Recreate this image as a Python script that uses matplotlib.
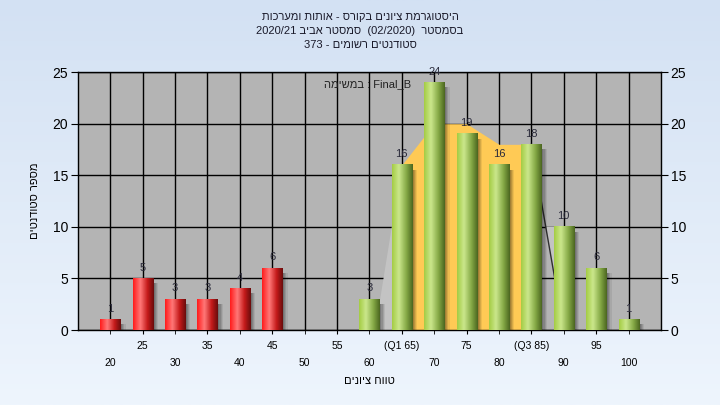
import numpy as np
import matplotlib
matplotlib.use("Agg")
import matplotlib.pyplot as plt
from matplotlib.colors import LinearSegmentedColormap
from matplotlib.patches import Rectangle, Polygon

plt.rcParams['font.family'] = ['Liberation Sans', 'DejaVu Sans']

# grade histogram data
grades = [20, 25, 30, 35, 40, 45, 50, 55, 60, 65, 70, 75, 80, 85, 90, 95, 100]
counts = [1, 5, 3, 3, 4, 6, 0, 0, 3, 16, 24, 19, 16, 18, 10, 6, 1]
pass_grade = 55
tick_names = ['20', '25', '30', '35', '40', '45', '50', '55', '60', '(Q1 65)',
              '70', '75', '80', '(Q3 85)', '90', '95', '100']

# shaded background areas (inter-quartile band and tails)
iqr_grades = [65, 70, 75, 80, 85]
iqr_heights = [16, 20, 20, 18, 18]
left_tail_grades = [60.9, 65, 65]
left_tail_vals = [0, 16, 0]
right_tail_grades = [85, 90]
right_tail_vals = [18, 0]

title_lines = ["היסטוגרמת ציונים בקורס - אותות ומערכות",
               "בסמסטר  (02/2020)  סמסטר אביב 2020/21",
               "סטודנטים רשומים - 373"]
note = "Final_B : במשימה"
xlabel = "טווח ציונים"
ylabel = "מספר סטודנטים"


def rtl(s):
    # matplotlib has no bidi support, so build the visual order by hand
    out = []
    for t in reversed(s.split(' ')):
        if any('\u0590' <= c <= '\u05ff' for c in t):
            t = t[::-1]
        out.append(t)
    return ' '.join(out)


fig = plt.figure(figsize=(7.2, 4.05), dpi=100)

# light blue gradient background
bg = fig.add_axes([0, 0, 1, 1], zorder=-10)
grad = np.linspace(0, 1, 256).reshape(-1, 1)
bg_cmap = LinearSegmentedColormap.from_list('bg', ['#d3e1f3', '#eef5fd'])
bg.imshow(grad, cmap=bg_cmap, aspect='auto', extent=[0, 1, 0, 1])
bg.axis('off')

ax = fig.add_axes([0.108, 0.185, 0.810, 0.637])
ax.set_facecolor('#b4b4b4')

bw = 3.1
red_cmap = LinearSegmentedColormap.from_list(
    'r', [(0, '#ff1c1c'), (0.35, '#ff7878'), (0.7, '#c41a1a'), (1, '#6a0d0d')])
green_cmap = LinearSegmentedColormap.from_list(
    'g', [(0, '#a4cc44'), (0.33, '#cbe78c'), (0.7, '#84a845'), (1, '#4b6620')])
hgrad = np.linspace(0, 1, 64).reshape(1, -1)

# areas behind the bars
xs = np.array(iqr_grades)
ax.fill_between(xs, 0, iqr_heights, color='#ffca55', lw=0, zorder=2)
ax.add_patch(Polygon(list(zip(left_tail_grades, left_tail_vals)),
                     closed=True, fc='#c3c3c3', ec='none', zorder=2))
# light strip to the right of the descending tail line, below the 90 bar top
k = counts[grades.index(90)]
xk = np.interp(k, right_tail_vals[::-1], right_tail_grades[::-1])
ax.add_patch(Polygon([(xk, k), (right_tail_grades[1], k), (right_tail_grades[1], 0)],
                     closed=True, fc='#c3c3c3', ec='none', zorder=2))
ax.plot(right_tail_grades, right_tail_vals, color='#303030', lw=1, zorder=2.5)

for g, c in zip(grades, counts):
    if c == 0:
        continue
    x0 = g - bw / 2
    # soft shadow
    for i, a in enumerate([0.13, 0.12, 0.10, 0.07]):
        ax.add_patch(Rectangle((x0 + 0.3 + 0.18 * i, -0.35), bw, c - 0.1,
                               fc='black', alpha=a, lw=0, zorder=3))
    cm = red_cmap if g < pass_grade else green_cmap
    ax.imshow(hgrad, cmap=cm, aspect='auto', extent=[x0, x0 + bw, 0, c],
              zorder=4, interpolation='bilinear')
    ax.text(g, c + 0.55, str(c), ha='center', va='bottom', fontsize=8,
            color='#2a2a3a', zorder=6)

ax.set_xlim(15, 105)
ax.set_ylim(0, 25)
ax.set_yticks([0, 5, 10, 15, 20, 25])
ax.yaxis.grid(True, color='black', lw=1)
ax.set_xticks(grades[1::2])
ax.set_xticklabels(tick_names[1::2])
ax.set_xticks(grades[0::2], minor=True)
ax.set_xticklabels(tick_names[0::2], minor=True)
ax.xaxis.grid(True, which='both', color='black', lw=1)
ax.set_axisbelow(True)
ax.tick_params(axis='x', which='major', length=3, pad=5, labelsize=7.5)
ax.tick_params(axis='x', which='minor', length=3, pad=17, labelsize=7.5)
ax.tick_params(axis='y', length=5, labelsize=10, right=True, labelright=True,
               pad=2)
for s in ax.spines.values():
    s.set_color('black')
    s.set_linewidth(1)

ax.set_xlabel(rtl(xlabel), fontsize=8, labelpad=6)
ax.set_ylabel(rtl(ylabel), fontsize=8, labelpad=9)

ax.text(0.497, 0.952, rtl(note), transform=ax.transAxes, ha='center',
        va='center', fontsize=8, color='#222222', zorder=7)

for i, line in enumerate(title_lines):
    fig.text(0.5, 0.958 - i * 0.034, rtl(line), ha='center', va='center',
             fontsize=8, color='#1a1a2a')

fig.savefig('out.png', dpi=100)
